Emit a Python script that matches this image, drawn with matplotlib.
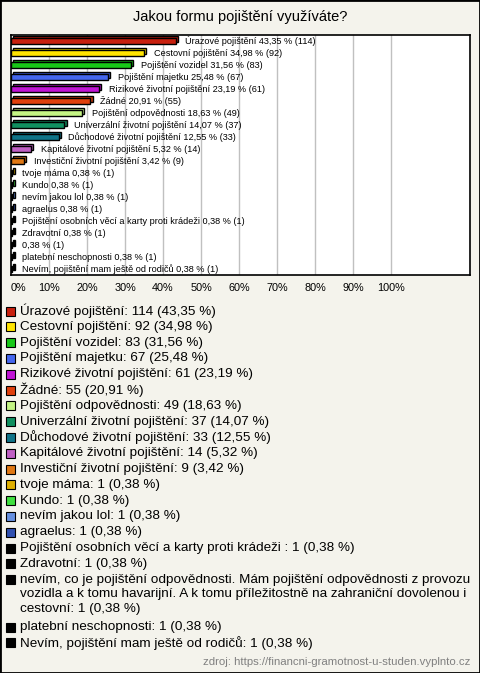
import matplotlib.pyplot as plt
from matplotlib.patches import Rectangle
import matplotlib.colors as mcolors

plt.rcParams['font.family'] = ['Liberation Sans', 'DejaVu Sans']

# answers (legend names), counts and shares in %
categories = [
    "Úrazové pojištění", "Cestovní pojištění", "Pojištění vozidel",
    "Pojištění majetku", "Rizikové životní pojištění", "Žádné",
    "Pojištění odpovědnosti", "Univerzální životní pojištění",
    "Důchodové životní pojištění", "Kapitálové životní pojištění",
    "Investiční životní pojištění", "tvoje máma", "Kundo", "nevím jakou lol",
    "agraelus", "Pojištění osobních věcí a karty proti krádeži ", "Zdravotní",
    "nevím, co je pojištění odpovědnosti. Mám pojištění odpovědnosti z provozu "
    "vozidla a k tomu havarijní. A k tomu příležitostně na zahraniční dovolenou i cestovní",
    "platební neschopnosti", "Nevím, pojištění mam ještě od rodičů",
]
counts = [114, 92, 83, 67, 61, 55, 49, 37, 33, 14, 9, 1, 1, 1, 1, 1, 1, 1, 1, 1]
percents = [43.35, 34.98, 31.56, 25.48, 23.19, 20.91, 18.63, 14.07, 12.55, 5.32,
            3.42, 0.38, 0.38, 0.38, 0.38, 0.38, 0.38, 0.38, 0.38, 0.38]
colors = ["#c8200e", "#ffe400", "#18c818", "#4466ee", "#c014d4", "#e0400c",
          "#c4f484", "#109060", "#107488", "#c060c4", "#e07814", "#e0b000",
          "#40e040", "#6690e0", "#3050b0", "#000000", "#000000", "#000000",
          "#000000", "#000000"]

W, H = 480, 673
fig = plt.figure(figsize=(W / 100, H / 100), dpi=100)
fig.patch.set_facecolor("#f4f3ec")
fig.patches.append(Rectangle((0, 0), 1, 1, transform=fig.transFigure, fill=False,
                             edgecolor="black", linewidth=2))

def fx(px):
    return px / W

def fy(py):
    return 1 - py / H

ax = fig.add_axes([fx(11), fy(275), fx(470) - fx(11), fy(35) - fy(275)])
ax.set_facecolor("white")
n = len(categories)
ys = list(range(n))
ax.set_xlim(0, 120.8)
ax.set_ylim(n - 0.5, -0.5)
for g in range(10, 101, 10):
    ax.axvline(g, color="#c0c0c0", linewidth=1, zorder=0)

# 3D-ish bars: a top/side face shifted up-right, then the front face
dx, dy, h = 0.55, 0.17, 0.46
back = [tuple(c * 0.85 for c in mcolors.to_rgb(col)) for col in colors]
ax.barh([y - dy for y in ys], percents, left=dx, height=h, color=back,
        edgecolor="black", linewidth=1, zorder=2)
ax.barh(ys, percents, height=h, color=colors, edgecolor="black", linewidth=1, zorder=3)

for y, name, p, c in zip(ys, categories, percents, counts):
    label = name.strip() if len(name) < 60 else ""
    txt = (label + " " if label else "") + f"{p:.2f}".replace(".", ",") + f" % ({c})"
    ax.annotate(txt, (p, y), xytext=(7, 0), textcoords="offset points",
                va="center", ha="left", fontsize=6.6, zorder=4)

ax.set_yticks([])
ax.set_xticks(range(0, 101, 10))
ax.set_xticklabels([f"{t}%" for t in range(0, 101, 10)], fontsize=7.8)
ax.get_xticklabels()[0].set_horizontalalignment("left")
ax.tick_params(axis="x", length=0, pad=5.5)
for s in ax.spines.values():
    s.set_linewidth(1.2)

fig.text(0.5, fy(17), "Jakou formu pojištění využíváte?", ha="center", va="center",
         fontsize=10.5)

# legend drawn below the chart
wrap_at = "z provozu "
row = 0
step = 15.8
for name, c, p, col in zip(categories, counts, percents, colors):
    txt = f"{name}: {c} (" + f"{p:.2f}".replace(".", ",") + " %)"
    if len(txt) > 80:
        i = txt.index(wrap_at) + len(wrap_at)
        j = txt.index("dovolenou i ") + len("dovolenou i ")
        lines = [txt[:i].rstrip(), txt[i:j].rstrip(), txt[j:]]
    else:
        lines = [txt]
    yc = 311 + row * step
    fig.patches.append(Rectangle((fx(6), fy(yc + 4.5)), fx(9), 9 / H,
                                 transform=fig.transFigure, facecolor=col,
                                 edgecolor="black", linewidth=0.8))
    for k, ln in enumerate(lines):
        fig.text(fx(20), fy(yc + k * step * 0.93), ln, ha="left", va="center",
                 fontsize=9.7)
    row += len(lines)

fig.text(fx(470), fy(662), "zdroj: https://financni-gramotnost-u-studen.vyplnto.cz",
         ha="right", va="center", fontsize=8.2, color="#808080")

fig.savefig("out.png", dpi=100, facecolor=fig.get_facecolor())
